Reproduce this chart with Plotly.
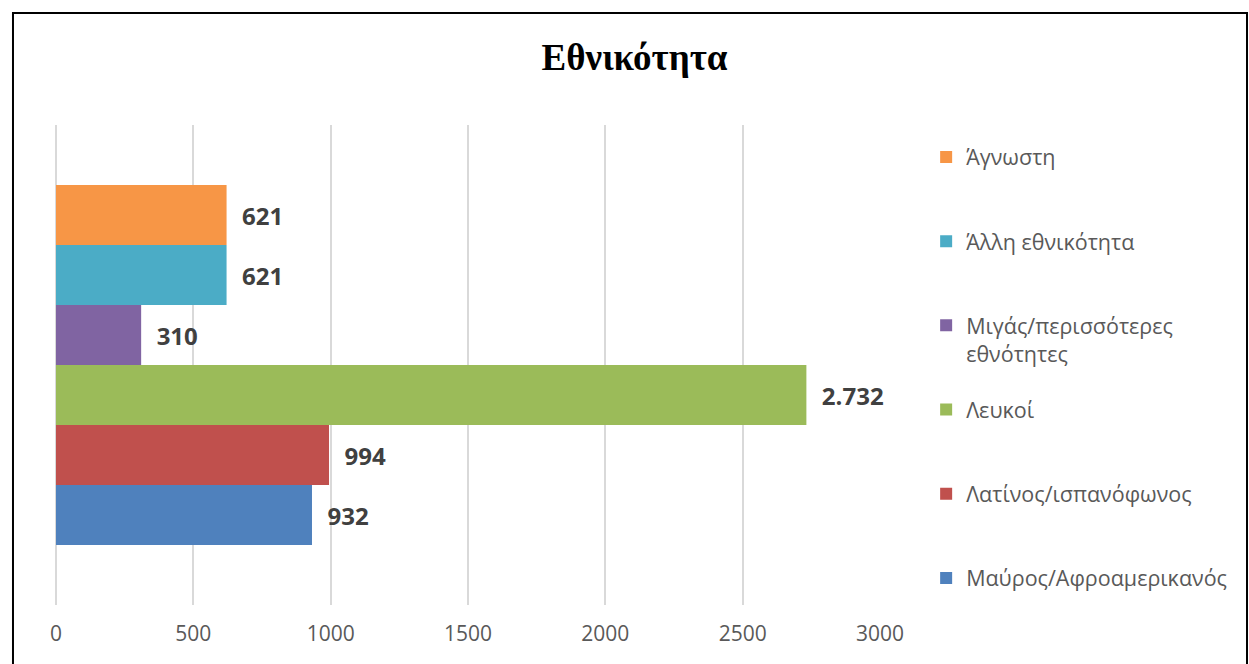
import plotly.graph_objects as go

# series (bottom to top, same order Excel draws them)
categories = ["Μαύρος/Αφροαμερικανός", "Λατίνος/ισπανόφωνος", "Λευκοί",
              "Μιγάς/περισσότερες<br>εθνότητες", "Άλλη εθνικότητα", "Άγνωστη"]
values = [932, 994, 2732, 310, 621, 621]
colors = ["#4F81BD", "#C0504D", "#9BBB59", "#8064A2", "#4BACC6", "#F79646"]
x_ticks = [0, 500, 1000, 1500, 2000, 2500, 3000]

TEXT_FONT = "Open Sans"

fig = go.Figure()
legends = {}
for i, (name, val, col) in enumerate(zip(categories, values, colors)):
    key = "legend" if i == 0 else f"legend{i + 1}"
    fig.add_trace(go.Bar(
        x=[val],
        y=[""],
        orientation="h",
        name=name,
        marker={"color": col, "line": {"width": 0}},
        legend=key,
        texttemplate="\u00a0\u00a0%{x:,}",
        textposition="outside",
        textfont={"size": 24, "color": "#404040", "family": TEXT_FONT, "weight": "bold"},
        cliponaxis=False,
        hovertemplate="%{fullData.name}: %{x}<extra></extra>",
    ))
    # one legend per series so the entries sit evenly spaced like Excel's
    ly = 0.05625 + i * 0.1754
    if "<br>" in name:
        ly -= 0.029
    legends[key] = {
        "x": 1.056, "xanchor": "left",
        "y": ly, "yanchor": "middle",
        "valign": "top",
        "bgcolor": "rgba(0,0,0,0)",
        "font": {"family": TEXT_FONT, "size": 21.5, "color": "#595959"},
    }

fig.update_layout(
    title={
        "text": "Εθνικότητα",
        "x": 0.508, "xanchor": "center",
        "y": 0.914, "yanchor": "middle",
        "font": {"family": "Liberation Serif", "size": 37, "color": "black", "weight": "bold"},
    },
    barmode="group",
    bargap=0.25,
    separators=",.",
    width=1249,
    height=664,
    margin={"l": 56, "r": 369, "t": 125, "b": 59},
    plot_bgcolor="white",
    paper_bgcolor="white",
    showlegend=True,
    xaxis={
        "range": [0, 3000],
        "tickvals": x_ticks,
        "showgrid": True,
        "gridcolor": "#D9D9D9",
        "gridwidth": 1.5,
        "zeroline": True,
        "zerolinecolor": "#D9D9D9",
        "zerolinewidth": 1.5,
        "showline": False,
        "ticklabelstandoff": 14,
        "tickfont": {"family": TEXT_FONT, "size": 21, "color": "#595959"},
        "fixedrange": True,
    },
    yaxis={"showticklabels": False, "showgrid": False, "zeroline": False, "fixedrange": True},
    shapes=[{
        "type": "rect", "xref": "paper", "yref": "paper",
        "x0": -0.0522, "x1": 1.4454, "y0": -0.2, "y1": 1.2333,
        "line": {"color": "black", "width": 2},
    }],
    **legends,
)

# drop the browser's default body margin so the figure fills the window
fig.write_html(
    "out.html",
    config={"displayModeBar": False},
    post_script="document.body.style.margin='0';",
)
